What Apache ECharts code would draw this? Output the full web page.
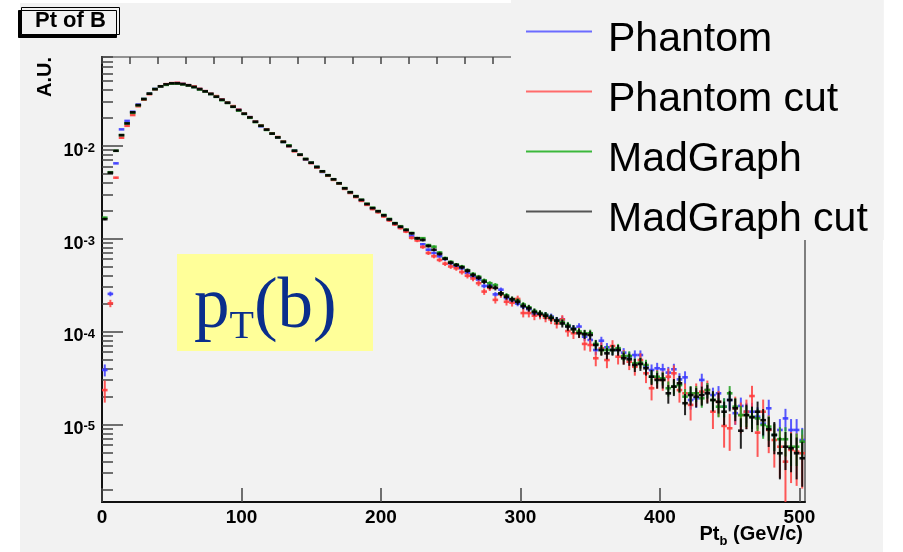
<!DOCTYPE html>
<html><head><meta charset="utf-8">
<script src="https://cdn.jsdelivr.net/npm/echarts@6/dist/echarts.min.js"></script>
<style>
html,body{margin:0;padding:0;background:#ffffff;}
#bg{position:absolute;left:20px;top:3px;width:863px;height:549px;background:#f2f2f2;}
#chart{position:absolute;left:0;top:0;width:903px;height:552px;}
</style></head>
<body><div id="bg"></div><div id="chart"></div>
<script>
// ---- data ----
const binWidth = 4;            // GeV
const xMin = 0, xMax = 504;    // histogram range
const yMin = 1.46e-6, yMax = 0.0902;
const xTickStep = 100, xMinorStep = 20;
const yMinorMultipliers = [2, 3, 4, 5, 6, 7, 8, 9];
const seriesNames = ['Phantom', 'Phantom cut', 'MadGraph', 'MadGraph cut'];

const phantom = [3.85e-5, 2.54e-4, 6.46e-3, 1.50e-2, 1.85e-2, 2.32e-2, 2.77e-2, 3.18e-2, 3.65e-2, 4.08e-2,
 4.35e-2, 4.58e-2, 4.70e-2, 4.72e-2, 4.62e-2, 4.48e-2, 4.30e-2, 4.07e-2, 3.86e-2, 3.62e-2,
 3.38e-2, 3.12e-2, 2.91e-2, 2.64e-2, 2.43e-2, 2.21e-2, 2.03e-2, 1.82e-2, 1.62e-2, 1.49e-2,
 1.35e-2, 1.22e-2, 1.10e-2, 9.95e-3, 8.84e-3, 8.01e-3, 7.08e-3, 6.55e-3, 5.90e-3, 5.22e-3,
 4.79e-3, 4.34e-3, 3.92e-3, 3.46e-3, 3.13e-3, 2.84e-3, 2.59e-3, 2.34e-3, 2.12e-3, 1.95e-3,
 1.77e-3, 1.60e-3, 1.44e-3, 1.32e-3, 1.22e-3, 1.07e-3, 1.00e-3, 8.69e-4, 7.59e-4, 7.00e-4,
 6.46e-4, 6.03e-4, 5.43e-4, 5.01e-4, 4.79e-4, 4.27e-4, 3.89e-4, 3.63e-4, 3.09e-4, 3.16e-4,
 2.51e-4, 2.82e-4, 2.29e-4, 2.14e-4, 2.00e-4, 1.86e-4, 1.74e-4, 1.55e-4, 1.55e-4, 1.51e-4,
 1.45e-4, 1.33e-4, 1.35e-4, 1.15e-4, 1.08e-4, 1.13e-4, 8.79e-5, 8.11e-5, 6.32e-5, 7.96e-5,
 6.76e-5, 6.32e-5, 6.32e-5, 5.92e-5, 5.36e-5, 5.58e-5, 5.58e-5, 4.19e-5, 3.85e-5, 4.02e-5,
 3.92e-5, 3.61e-5, 3.92e-5, 3.05e-5, 3.21e-5, 1.83e-5, 1.91e-5, 3.01e-5, 2.34e-5, 2.07e-5,
 2.16e-5, 1.55e-5, 1.83e-5, 1.32e-5, 1.58e-5, 1.37e-5, 1.37e-5, 1.21e-5, 1.02e-5, 1.49e-5,
 7.69e-6, 8.71e-6, 1.16e-5, 8.71e-6, 8.71e-6, 6.79e-6];

const phantomCut = [2.34e-5, 2.01e-4, 4.53e-3, 1.22e-2, 1.64e-2, 2.14e-2, 2.66e-2, 3.13e-2, 3.59e-2, 4.05e-2,
 4.37e-2, 4.60e-2, 4.72e-2, 4.76e-2, 4.63e-2, 4.49e-2, 4.35e-2, 4.09e-2, 3.87e-2, 3.63e-2,
 3.42e-2, 3.14e-2, 2.92e-2, 2.67e-2, 2.44e-2, 2.22e-2, 2.03e-2, 1.82e-2, 1.65e-2, 1.50e-2,
 1.36e-2, 1.24e-2, 1.11e-2, 9.90e-3, 8.71e-3, 7.95e-3, 7.15e-3, 6.50e-3, 5.83e-3, 5.25e-3,
 4.75e-3, 4.29e-3, 3.90e-3, 3.43e-3, 3.10e-3, 2.80e-3, 2.55e-3, 2.31e-3, 2.08e-3, 1.92e-3,
 1.73e-3, 1.57e-3, 1.42e-3, 1.30e-3, 1.19e-3, 1.02e-3, 9.55e-4, 8.13e-4, 7.00e-4, 6.46e-4,
 5.89e-4, 5.37e-4, 5.01e-4, 4.79e-4, 4.37e-4, 3.98e-4, 3.72e-4, 3.31e-4, 2.69e-4, 2.95e-4,
 2.19e-4, 2.51e-4, 2.09e-4, 2.04e-4, 2.24e-4, 1.58e-4, 1.58e-4, 1.48e-4, 1.51e-4, 1.41e-4,
 1.35e-4, 1.22e-4, 1.35e-4, 1.01e-4, 9.57e-5, 9.77e-5, 7.35e-5, 7.16e-5, 5.15e-5, 6.59e-5,
 4.93e-5, 6.98e-5, 5.36e-5, 5.36e-5, 4.73e-5, 4.18e-5, 4.93e-5, 3.55e-5, 2.45e-5, 3.13e-5,
 3.01e-5, 3.26e-5, 3.55e-5, 2.34e-5, 2.16e-5, 1.62e-5, 2.16e-5, 2.25e-5, 2.34e-5, 1.37e-5,
 1.75e-5, 9.62e-6, 9.08e-6, 1.49e-5, 1.26e-5, 1.37e-5, 2.02e-5, 8.15e-6, 1.37e-5, 8.71e-6,
 6.79e-6, 5.75e-6, 3.97e-6, 5.31e-6, 5.09e-6, 4.89e-6];

const madGraph = [1.68e-3, 5.18e-3, 8.83e-3, 1.30e-2, 1.74e-2, 2.26e-2, 2.72e-2, 3.18e-2, 3.63e-2, 4.07e-2,
 4.36e-2, 4.52e-2, 4.66e-2, 4.66e-2, 4.57e-2, 4.45e-2, 4.27e-2, 4.03e-2, 3.84e-2, 3.60e-2,
 3.36e-2, 3.09e-2, 2.89e-2, 2.62e-2, 2.39e-2, 2.20e-2, 2.00e-2, 1.80e-2, 1.64e-2, 1.48e-2,
 1.35e-2, 1.23e-2, 1.10e-2, 1.01e-2, 8.85e-3, 8.02e-3, 7.20e-3, 6.58e-3, 5.92e-3, 5.31e-3,
 4.82e-3, 4.36e-3, 3.95e-3, 3.50e-3, 3.17e-3, 2.87e-3, 2.62e-3, 2.37e-3, 2.15e-3, 1.98e-3,
 1.80e-3, 1.63e-3, 1.47e-3, 1.36e-3, 1.25e-3, 1.15e-3, 1.01e-3, 1.01e-3, 8.51e-4, 8.18e-4,
 7.08e-4, 6.17e-4, 5.62e-4, 5.25e-4, 5.01e-4, 4.57e-4, 4.17e-4, 3.89e-4, 3.55e-4, 3.31e-4,
 3.16e-4, 2.57e-4, 2.45e-4, 2.24e-4, 2.14e-4, 1.95e-4, 1.82e-4, 1.66e-4, 1.58e-4, 1.51e-4,
 1.41e-4, 1.31e-4, 1.26e-4, 1.17e-4, 1.06e-4, 1.00e-4, 9.55e-5, 9.57e-5, 7.35e-5, 6.32e-5,
 6.32e-5, 6.32e-5, 6.61e-5, 5.45e-5, 5.45e-5, 4.54e-5, 4.61e-5, 4.36e-5, 3.26e-5, 3.26e-5,
 3.13e-5, 2.45e-5, 2.55e-5, 2.65e-5, 1.99e-5, 2.16e-5, 2.16e-5, 1.91e-5, 2.34e-5, 1.83e-5,
 1.55e-5, 1.55e-5, 2.16e-5, 1.55e-5, 1.26e-5, 1.26e-5, 1.21e-5, 1.16e-5, 9.86e-6, 9.46e-6,
 7.69e-6, 6.92e-6, 6.92e-6, 5.75e-6, 5.75e-6, 6.52e-6];

const madGraphCut = [1.62e-3, 5.13e-3, 8.83e-3, 1.30e-2, 1.74e-2, 2.29e-2, 2.74e-2, 3.18e-2, 3.63e-2, 4.07e-2,
 4.36e-2, 4.58e-2, 4.70e-2, 4.70e-2, 4.61e-2, 4.47e-2, 4.29e-2, 4.07e-2, 3.85e-2, 3.61e-2,
 3.37e-2, 3.13e-2, 2.90e-2, 2.63e-2, 2.42e-2, 2.21e-2, 2.02e-2, 1.81e-2, 1.64e-2, 1.49e-2,
 1.35e-2, 1.23e-2, 1.10e-2, 9.93e-3, 8.83e-3, 8.00e-3, 7.19e-3, 6.56e-3, 5.90e-3, 5.30e-3,
 4.80e-3, 4.35e-3, 3.94e-3, 3.48e-3, 3.15e-3, 2.85e-3, 2.61e-3, 2.36e-3, 2.13e-3, 1.97e-3,
 1.78e-3, 1.61e-3, 1.46e-3, 1.34e-3, 1.24e-3, 1.14e-3, 1.01e-3, 9.66e-4, 8.32e-4, 7.59e-4,
 6.84e-4, 6.08e-4, 5.51e-4, 5.20e-4, 4.91e-4, 4.51e-4, 4.06e-4, 3.79e-4, 3.44e-4, 3.03e-4,
 2.95e-4, 2.57e-4, 2.37e-4, 2.22e-4, 2.09e-4, 1.88e-4, 1.78e-4, 1.62e-4, 1.55e-4, 1.48e-4,
 1.40e-4, 1.31e-4, 1.22e-4, 1.13e-4, 1.06e-4, 9.57e-5, 9.33e-5, 9.18e-5, 7.16e-5, 6.32e-5,
 5.82e-5, 6.32e-5, 6.32e-5, 5.15e-5, 5.02e-5, 4.36e-5, 4.47e-5, 4.02e-5, 3.26e-5, 3.01e-5,
 3.01e-5, 2.16e-5, 2.55e-5, 2.77e-5, 1.69e-5, 2.07e-5, 1.99e-5, 2.07e-5, 2.16e-5, 1.83e-5,
 1.75e-5, 1.37e-5, 1.83e-5, 1.49e-5, 8.55e-6, 1.26e-5, 1.19e-5, 1.37e-5, 1.11e-5, 8.85e-6,
 7.69e-6, 4.89e-6, 5.75e-6, 5.53e-6, 4.89e-6, 4.32e-6];

// effective number of entries of each sample (sets the statistical error bars)
const entries = [1.2e6, 6.0e5, 1.2e6, 9.0e5];

// ---- styles ----
const colors = ['#3c3cff', '#ff3c3c', '#1f9f1f', '#000000'];
const legendColors = ['#6b6bff', '#ff6b6b', '#3cb83c', '#555555'];
const FONT = 'Liberation Sans, Arial, Helvetica, sans-serif';
const SERIF = 'Liberation Serif, Times New Roman, serif';

const allSeries = [phantom, phantomCut, madGraph, madGraphCut];
const binCenters = phantom.map((_, i) => xMin + (i + 0.5) * binWidth);

const yMinorTicks = [];
for (let e = Math.floor(Math.log10(yMin)); e <= Math.ceil(Math.log10(yMax)); e++) {
  yMinorMultipliers.forEach(m => {
    const v = m * Math.pow(10, e);
    if (v > yMin && v < yMax) yMinorTicks.push(Math.log10(v));
  });
}

function makeRender(color) {
  return function (params, api) {
    const x = api.value(0), v = api.value(1), s = api.value(2);
    const l = api.coord([x - binWidth / 2, v]);
    const r = api.coord([x + binWidth / 2, v]);
    const up = api.coord([x, v + s]);
    const lo = api.coord([x, Math.max(v - s, yMin)]);
    return {
      type: 'group',
      children: [
        { type: 'line', shape: { x1: l[0], y1: l[1], x2: r[0], y2: r[1] },
          style: { stroke: color, lineWidth: 2.6, opacity: 0.9 } },
        { type: 'line', shape: { x1: up[0], y1: up[1], x2: lo[0], y2: lo[1] },
          style: { stroke: color, lineWidth: 2, opacity: 0.85 } }
      ]
    };
  };
}

const series = allSeries.map((vals, k) => ({
  name: seriesNames[k],
  type: 'custom',
  xAxisIndex: 0,
  yAxisIndex: 0,
  clip: true,
  z: 2 + k,
  itemStyle: { color: legendColors[k] },
  encode: { x: 0, y: 1 },
  renderItem: makeRender(colors[k]),
  data: vals.map((v, i) => [binCenters[i], v, Math.sqrt(v / entries[k])])
}));

// legend icon: a thin line at the top of the icon box (tiny dot keeps the box height)
const legendIcon = 'path://M0,0H66V2H0Z M0,17.9H0.1V18H0Z';

const chart = echarts.init(document.getElementById('chart'), null, { renderer: 'canvas' });
chart.setOption({
  animation: false,
  backgroundColor: 'transparent',
  title: {
    text: 'Pt of B',
    left: 21, top: 7,
    padding: [2, 14, 2, 14],
    backgroundColor: '#f2f2f2',
    borderColor: '#000', borderWidth: 1,
    shadowColor: '#000', shadowOffsetX: -3, shadowOffsetY: 3, shadowBlur: 0.1,
    textStyle: { fontFamily: FONT, fontSize: 22, fontWeight: 'bold', color: '#000', lineHeight: 24 }
  },
  legend: {
    left: 511, top: 0,
    orient: 'vertical',
    padding: [19, 16, 0, 15],
    backgroundColor: '#f2f2f2',
    itemGap: 19,
    itemWidth: 66, itemHeight: 18,
    selectedMode: false,
    textStyle: { fontFamily: FONT, fontSize: 41, color: '#000', lineHeight: 39, padding: [0, 0, 0, 11] },
    data: seriesNames.map((n, k) => ({ name: n, icon: legendIcon, itemStyle: { color: legendColors[k] } }))
  },
  grid: {
    left: 102, top: 57, width: 703, height: 445,
    containLabel: false, outerBoundsMode: 'none',
    show: true, borderColor: '#333', borderWidth: 1.2, backgroundColor: 'transparent'
  },
  xAxis: [{
    type: 'value', min: xMin, max: xMax, interval: xTickStep,
    name: '{a|Pt}{s|b}{a| (GeV/c)}',
    nameLocation: 'end', nameGap: -2, nameMoveOverlap: false,
    nameTextStyle: {
      align: 'right', verticalAlign: 'top', padding: [26, 0, 0, 0], color: '#000',
      rich: {
        a: { fontFamily: FONT, fontSize: 20, fontWeight: 'bold', color: '#000', lineHeight: 20, padding: [0, 0, 7, 0] },
        s: { fontFamily: FONT, fontSize: 13, fontWeight: 'bold', color: '#000', lineHeight: 14, verticalAlign: 'bottom' }
      }
    },
    axisLine: { show: true, onZero: false, lineStyle: { color: '#111', width: 2 } },
    axisTick: { show: true, inside: true, length: 14, lineStyle: { color: '#444', width: 1.5 } },
    axisLabel: { show: true, margin: 6, showMaxLabel: false, fontFamily: FONT, fontSize: 19, fontWeight: 'bold', color: '#000' },
    splitLine: { show: false }
  }, {
    type: 'value', min: xMin, max: xMax, interval: xMinorStep,
    axisLine: { show: false },
    axisTick: { show: true, inside: true, length: 7, lineStyle: { color: '#444', width: 1.5 } },
    axisLabel: { show: false },
    splitLine: { show: false }
  }],
  yAxis: [{
    type: 'log', logBase: 10, min: yMin, max: yMax,
    name: 'A.U.',
    nameLocation: 'end', nameGap: 0, nameRotate: 90, nameMoveOverlap: false,
    nameTextStyle: { fontFamily: FONT, fontSize: 20, fontWeight: 'bold', color: '#000',
      align: 'right', verticalAlign: 'bottom', padding: [0, 0, 47, 0] },
    axisLine: { show: true, onZero: false, lineStyle: { color: '#111', width: 2 } },
    axisTick: { show: true, inside: true, length: 21, lineStyle: { color: '#444', width: 1.5 } },
    axisLabel: {
      show: true, margin: 7, showMinLabel: false, showMaxLabel: false,
      padding: [10, 0, 0, 0],
      formatter: function (v) {
        const e = Math.log10(v), r = Math.round(e);
        if (Math.abs(e - r) > 1e-6) return '';
        return '{b|10}{e|' + r + '}';
      },
      rich: {
        b: { fontFamily: FONT, fontSize: 18, fontWeight: 'bold', color: '#000', lineHeight: 18, padding: [7, 0, 0, 0], verticalAlign: 'bottom' },
        e: { fontFamily: FONT, fontSize: 13, fontWeight: 'bold', color: '#000', lineHeight: 14, verticalAlign: 'top' }
      }
    },
    splitLine: { show: false },
    minorTick: { show: false }
  }, {
    type: 'value', min: Math.log10(yMin), max: Math.log10(yMax), position: 'left',
    axisLine: { show: false },
    axisTick: { show: true, inside: true, length: 11, customValues: yMinorTicks, lineStyle: { color: '#444', width: 1.5 } },
    axisLabel: { show: false },
    splitLine: { show: false }
  }],
  graphic: [
    { type: 'rect', x: 177, y: 254, shape: { x: 0, y: 0, width: 196, height: 97 },
      style: { fill: '#ffff99' }, z: 1 },
    { type: 'text', x: 194, y: 312, z: 2,
      style: {
        text: '{p|p}{t|T}{b|(b)}',
        verticalAlign: 'middle', align: 'left',
        rich: {
          p: { fontFamily: SERIF, fontSize: 71, fill: '#0a2e8c', lineHeight: 71, padding: [0, 0, 8, 0] },
          t: { fontFamily: SERIF, fontSize: 40, fill: '#0a2e8c', lineHeight: 40, verticalAlign: 'bottom' },
          b: { fontFamily: SERIF, fontSize: 71, fill: '#0a2e8c', lineHeight: 71, padding: [0, 0, 8, 0] }
        }
      } }
  ],
  series: series
});
</script>
</body></html>
